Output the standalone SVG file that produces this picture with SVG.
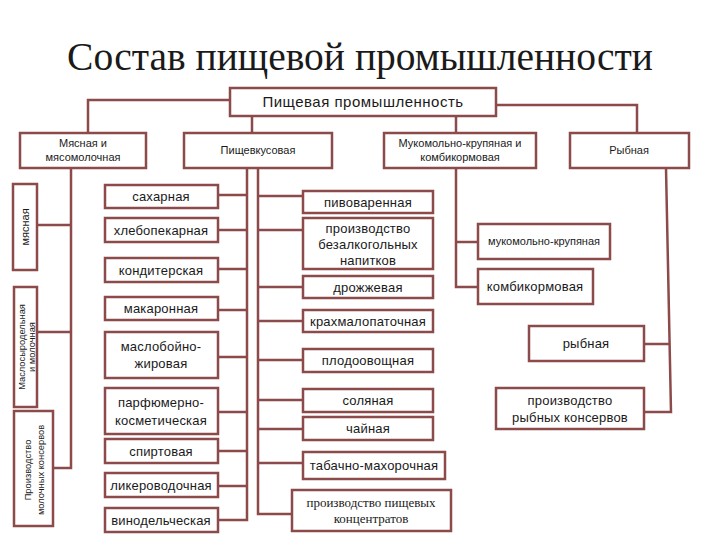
<svg xmlns="http://www.w3.org/2000/svg" width="720" height="540" viewBox="0 0 720 540">
<style>
.b{fill:#fff;stroke:#8c4a4a;stroke-width:2.5}
.c{fill:none;stroke:#8c4a4a;stroke-width:2.5}
text{font-family:"Liberation Sans",Arial,sans-serif;fill:#1a1a1a;text-anchor:middle}
.t{font-size:13px;letter-spacing:0.2px}
.s{font-size:11px}
.v{font-size:9.3px}
.ser{font-family:"Liberation Serif","Times New Roman",serif}
</style>
<rect width="720" height="540" fill="#fff"/>
<text class="ser" x="360" y="70" font-size="39.5">Состав пищевой промышленности</text>
<g id="connectors">
<polyline class="c" points="230,100 88,100 88,133"/>
<polyline class="c" points="252,116 252,133"/>
<polyline class="c" points="456,116 456,133"/>
<polyline class="c" points="496,105 637,105 637,133"/>
<polyline class="c" points="71,168 71,468 54,468"/>
<polyline class="c" points="37,225 71,225"/>
<polyline class="c" points="37,332 71,332"/>
<polyline class="c" points="247,168 247,520 218,520"/>
<path class="c" d="M218,195H247M218,230H247M218,269H247M218,310H247M218,357H247M218,412H247M218,451H247M218,486H247"/>
<polyline class="c" points="258,168 258,514 292,514"/>
<path class="c" d="M258,196H303M258,230H303M258,287H303M258,321H303M258,360H303M258,400H303M258,429H303M258,463H303"/>
<polyline class="c" points="456,168 456,287 478,287"/>
<path class="c" d="M456,242H478"/>
<polyline class="c" points="666,168 671,412 644,412"/>
<path class="c" d="M644,344H669"/>
</g>
<g id="n-root"><rect class="b" x="230" y="88" width="266" height="28"/><text x="363" y="107" font-size="15" letter-spacing="0.5">Пищевая промышленность</text></g>
<g id="n-myasnaya-group"><rect class="b" x="20" y="133" width="126" height="35"/><text class="s" x="83" y="147">Мясная и</text><text class="s" x="83" y="161">мясомолочная</text></g>
<g id="n-pishchevkus"><rect class="b" x="184" y="133" width="148" height="35"/><text class="s" x="258" y="154">Пищевкусовая</text></g>
<g id="n-mukomol-group"><rect class="b" x="384" y="133" width="152" height="35"/><text class="s" x="460" y="147">Мукомольно-крупяная и</text><text class="s" x="460" y="161">комбикормовая</text></g>
<g id="n-rybnaya-group"><rect class="b" x="570" y="133" width="119" height="35"/><text class="s" x="629" y="154">Рыбная</text></g>
<g id="n-myasnaya"><rect class="b" x="13" y="184" width="24" height="86"/><text class="s" transform="translate(29,227) rotate(-90)">мясная</text></g>
<g id="n-maslosyr"><rect class="b" x="14" y="287" width="23" height="120"/><text class="v" transform="translate(25,347) rotate(-90)">Маслосыродельная</text><text class="v" transform="translate(35,347) rotate(-90)">и молочная</text></g>
<g id="n-mol-konservy"><rect class="b" x="14" y="411" width="39" height="115"/><text class="v" transform="translate(31,470) rotate(-90)">Производство</text><text class="v" transform="translate(44,470) rotate(-90)">молочных консервов</text></g>
<g id="n-sakharnaya"><rect class="b" x="105" y="185" width="113" height="23"/><text class="t" x="161" y="201">сахарная</text></g>
<g id="n-khlebopek"><rect class="b" x="105" y="218" width="113" height="24"/><text class="t" x="161" y="235">хлебопекарная</text></g>
<g id="n-konditer"><rect class="b" x="105" y="258" width="113" height="24"/><text class="t" x="161" y="275">кондитерская</text></g>
<g id="n-makaron"><rect class="b" x="105" y="297" width="113" height="23"/><text class="t" x="161" y="313">макаронная</text></g>
<g id="n-masloboin"><rect class="b" x="105" y="332" width="113" height="46"/><text class="t" x="161" y="351">маслобойно-</text><text class="t" x="161" y="368">жировая</text></g>
<g id="n-parfum"><rect class="b" x="105" y="388" width="113" height="46"/><text class="t" x="161" y="407">парфюмерно-</text><text class="t" x="161" y="425">косметическая</text></g>
<g id="n-spirt"><rect class="b" x="105" y="439" width="113" height="24"/><text class="t" x="161" y="456">спиртовая</text></g>
<g id="n-liker"><rect class="b" x="105" y="473" width="113" height="24"/><text class="t" x="161" y="490">ликероводочная</text></g>
<g id="n-vinodel"><rect class="b" x="105" y="508" width="113" height="24"/><text class="t" x="161" y="525">винодельческая</text></g>
<g id="n-pivovar"><rect class="b" x="303" y="191" width="130" height="22"/><text class="t" x="368" y="207">пивоваренная</text></g>
<g id="n-bezalk"><rect class="b" x="303" y="218" width="130" height="51"/><text class="t" x="368" y="233">производство</text><text class="t" x="368" y="249">безалкогольных</text><text class="t" x="368" y="265">напитков</text></g>
<g id="n-drozh"><rect class="b" x="303" y="276" width="130" height="22"/><text class="t" x="368" y="292">дрожжевая</text></g>
<g id="n-krakhmal"><rect class="b" x="303" y="310" width="130" height="22"/><text class="t" x="368" y="326">крахмалопаточная</text></g>
<g id="n-plodoovosh"><rect class="b" x="303" y="349" width="130" height="23"/><text class="t" x="368" y="365">плодоовощная</text></g>
<g id="n-solyanaya"><rect class="b" x="303" y="389" width="130" height="23"/><text class="t" x="368" y="405">соляная</text></g>
<g id="n-chainaya"><rect class="b" x="303" y="417" width="130" height="23"/><text class="t" x="368" y="433">чайная</text></g>
<g id="n-tabak"><rect class="b" x="303" y="452" width="142" height="27"/><text class="t" x="374" y="470">табачно-махорочная</text></g>
<g id="n-konc"><rect class="b" x="292" y="490" width="159" height="41"/><text class="ser" x="371" y="507" font-size="13">производство пищевых</text><text class="ser" x="371" y="523" font-size="13">концентратов</text></g>
<g id="n-mukomol"><rect class="b" x="478" y="224" width="132" height="35"/><text class="s" x="544" y="245">мукомольно-крупяная</text></g>
<g id="n-kombikorm"><rect class="b" x="478" y="269" width="115" height="35"/><text class="t" x="535" y="291">комбикормовая</text></g>
<g id="n-rybnaya"><rect class="b" x="529" y="326" width="115" height="35"/><text class="t" x="586" y="348">рыбная</text></g>
<g id="n-ryb-konservy"><rect class="b" x="496" y="388" width="148" height="41"/><text class="t" x="570" y="405">производство</text><text class="t" x="570" y="422">рыбных консервов</text></g>
</svg>
